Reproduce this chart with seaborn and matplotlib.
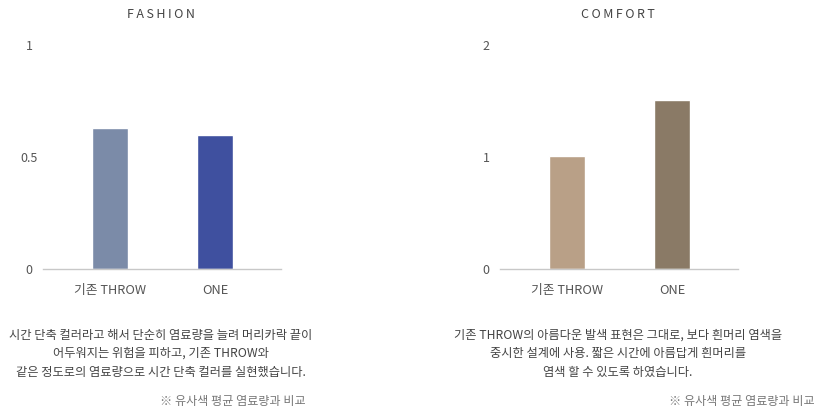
import seaborn as sns
import matplotlib.pyplot as plt

categorias = ['기존 THROW', 'ONE']
fashion_valores = [0.63, 0.60]
comfort_valores = [1.01, 1.51]
fashion_colores = ['#7b8ba8', '#3f509f']
comfort_colores = ['#b9a087', '#8a7a66']
fashion_ticks = [0, 0.5, 1]
comfort_ticks = [0, 1, 2]
fashion_texto = ['시간 단축 컬러라고 해서 단순히 염료량을 늘려 머리카락 끝이',
                 '어두워지는 위험을 피하고, 기존 THROW와',
                 '같은 정도로의 염료량으로 시간 단축 컬러를 실현했습니다.']
comfort_texto = ['기존 THROW의 아름다운 발색 표현은 그대로, 보다 흰머리 염색을',
                 '중시한 설계에 사용. 짧은 시간에 아름답게 흰머리를',
                 '염색 할 수 있도록 하였습니다.']
nota = '※ 유사색 평균 염료량과 비교'

sns.set_theme(style='white')
plt.rcParams['font.family'] = ['Noto Sans CJK KR', 'DejaVu Sans']
plt.rcParams['font.weight'] = 'light'

fig = plt.figure(figsize=(8.19, 4.09), dpi=100)
W, H = 819, 409


def dibujar(left, titulo, valores, colores, ticks, texto, nota_x):
    ax = fig.add_axes([left / W, 1 - 269 / H, 238 / W, 224 / H])
    sns.barplot(x=categorias, y=valores, hue=categorias, palette=colores,
                width=0.34, saturation=1, legend=False, ax=ax)
    ax.set_xlim(-0.64, 1.63)
    ax.set_ylim(0, ticks[-1])
    ax.set_yticks(ticks)
    ax.set_yticklabels([f'{t:g}' for t in ticks])
    for s in ['top', 'right', 'left']:
        ax.spines[s].set_visible(False)
    ax.spines['bottom'].set_color('#c8c8c8')
    ax.spines['bottom'].set_linewidth(1)
    ax.tick_params(axis='y', length=0, pad=10, labelsize=9, colors='#555555')
    ax.tick_params(axis='x', length=0, pad=11, labelsize=9.2, colors='#555555')
    for lab in ax.get_yticklabels():
        lab.set_horizontalalignment('center')
    ax.set_xlabel('')
    ax.set_ylabel('')
    cx = (left + 118) / W
    fig.text(cx, 1 - 15 / H, '\u2009'.join(titulo), ha='center', va='center',
             fontsize=9, color='#444444')
    for i, linea in enumerate(texto):
        fig.text(cx, 1 - (335 + i * 18.5) / H, linea, ha='center', va='center',
                 fontsize=8.8, color='#444444')
    fig.text(nota_x / W, 1 - 402 / H, nota, ha='right', va='center',
             fontsize=8.7, color='#777777')


dibujar(43, 'FASHION', fashion_valores, fashion_colores, fashion_ticks, fashion_texto, 306)
dibujar(500, 'COMFORT', comfort_valores, comfort_colores, comfort_ticks, comfort_texto, 815)

fig.savefig('out.png', dpi=100)
